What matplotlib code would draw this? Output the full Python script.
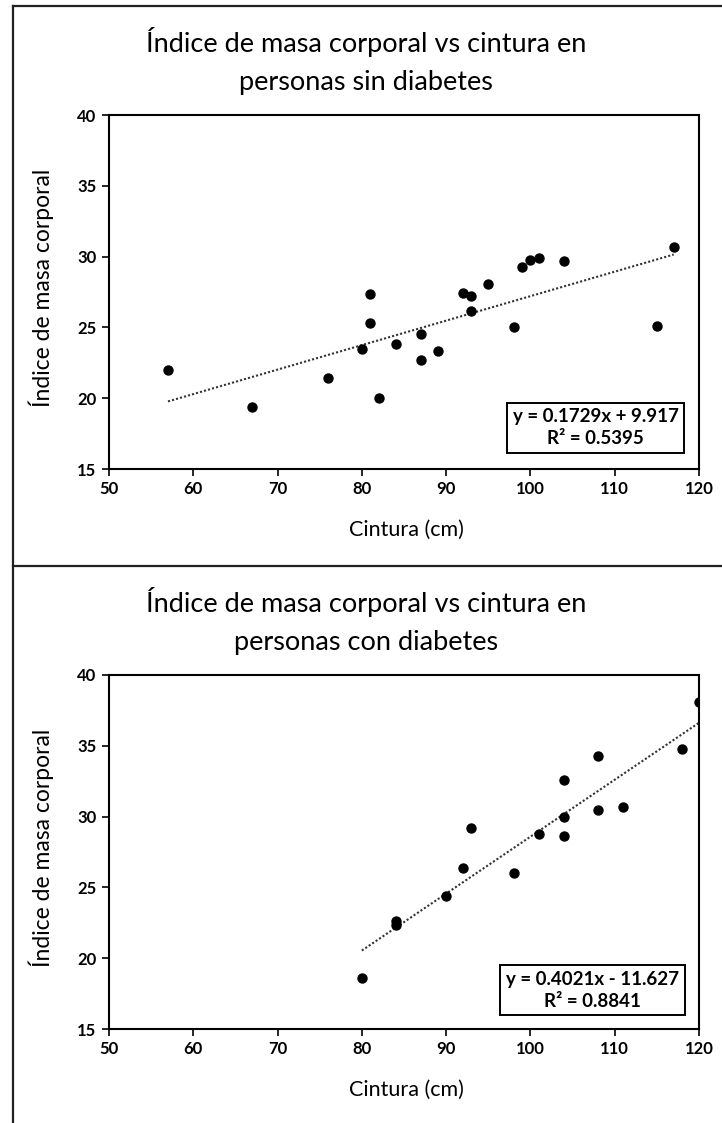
import matplotlib
matplotlib.use("Agg")
import matplotlib.pyplot as plt
from matplotlib.lines import Line2D

plt.rcParams['font.family'] = ['Lato', 'DejaVu Sans']

# ---------------- data ----------------
cintura_sin = [57, 67, 76, 80, 81, 81, 82, 84, 87, 87, 89, 92, 93, 93, 95, 98, 99, 100, 101, 104, 115, 117]
imc_sin     = [22.0, 19.4, 21.4, 23.5, 27.35, 25.3, 20.0, 23.8, 24.5, 22.7, 23.3, 27.4, 27.2, 26.15, 28.1, 25.0, 29.3, 29.75, 29.9, 29.7, 25.1, 30.65]

cintura_con = [80, 84, 84, 90, 92, 93, 98, 101, 104, 104, 104, 108, 108, 111, 118, 120]
imc_con     = [18.6, 22.6, 22.35, 24.4, 26.4, 29.2, 26.0, 28.8, 32.6, 30.0, 28.6, 34.25, 30.5, 30.7, 34.8, 38.1]

fit_sin = (0.1729, 9.917)     # slope, intercept
fit_con = (0.4021, -11.627)
r2_sin = "0.5395"
r2_con = "0.8841"

titles = ["Índice de masa corporal vs cintura en\npersonas sin diabetes",
          "Índice de masa corporal vs cintura en\npersonas con diabetes"]
xlabel = "Cintura (cm)"
ylabel = "Índice de masa corporal"
xticks = [50, 60, 70, 80, 90, 100, 110, 120]
yticks = [15, 20, 25, 30, 35, 40]

W, H = 722, 1123
fig = plt.figure(figsize=(W / 100, H / 100), dpi=100)

def fx(px):
    return px / W

def fy(py):
    return 1 - py / H

# outer frame lines
for (x0, y0, x1, y1) in [(12.7, 6, 722, 6), (12.7, 6, 12.7, 1123), (12.7, 566, 722, 566)]:
    fig.add_artist(Line2D([fx(x0), fx(x1)], [fy(y0), fy(y1)], color="#222222", lw=1.6))

panels = [
    (cintura_sin, imc_sin, fit_sin, r2_sin, "+", 0),
    (cintura_con, imc_con, fit_con, r2_con, "-", 560),
]

ax_left, ax_right = 109, 699
ax_top, ax_bot = 115, 469

for i, (xs, ys, fit, r2, sign, off) in enumerate(panels):
    ax = fig.add_axes([fx(ax_left), fy(ax_bot + off), (ax_right - ax_left) / W, (ax_bot - ax_top) / H])
    ax.scatter(xs, ys, s=42, color="black", zorder=3)
    m, b = fit
    xmin, xmax = min(xs), max(xs)
    ax.plot([xmin, xmax], [m * xmin + b, m * xmax + b], color="#333333", lw=1.5,
            linestyle=(0, (1, 1)), zorder=2)
    ax.set_xlim(50, 120)
    ax.set_ylim(15, 40)
    ax.set_xticks(xticks)
    ax.set_yticks(yticks)
    for sp in ax.spines.values():
        sp.set_color("black")
        sp.set_linewidth(1.5)
    ax.tick_params(direction="out", length=5, width=1.2, colors="black", labelsize=12, pad=4)
    for lab in ax.get_xticklabels() + ax.get_yticklabels():
        lab.set_fontweight("bold")
    eq = f"y = {m:.4f}x {sign} {abs(b):.3f}\nR² = {r2}"
    bx = 0.8246 if i == 0 else 0.8195
    by = 0.117 if i == 0 else 0.110
    ax.text(bx, by, eq, transform=ax.transAxes, ha="center", va="center",
            fontsize=13.5, fontweight="bold", linespacing=1.35,
            bbox=dict(boxstyle="square,pad=0.3", fc="white", ec="black", lw=1.4), zorder=4)
    # titles and labels
    fig.text(fx(366), fy(61 + off), titles[i], ha="center", va="center", fontsize=19.5, linespacing=1.65)
    fig.text(fx(406), fy(530 + off), xlabel, ha="center", va="center", fontsize=15.5)
    fig.text(fx(41), fy(288 + off), ylabel, ha="center", va="center", fontsize=16.5, rotation=90)

fig.savefig("out.png", dpi=100)
